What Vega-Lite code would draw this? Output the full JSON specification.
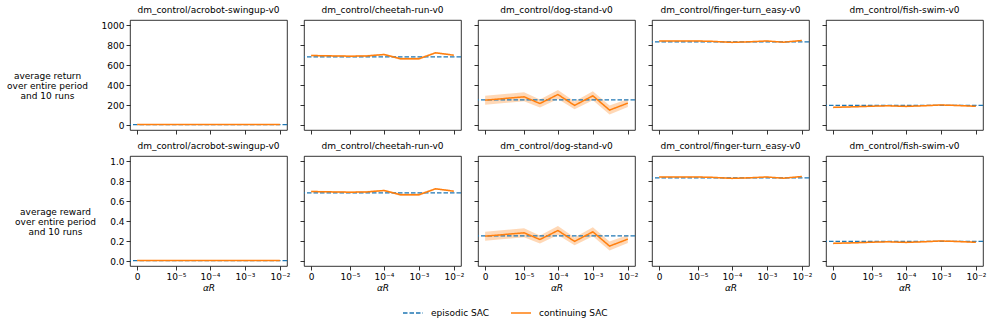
{
"$schema":"https://vega.github.io/schema/vega-lite/v6.json",
"padding":{"left":6,"top":5,"right":6,"bottom":4},
"background":"white",
"datasets":{"runs":[
{"env":"dm_control/acrobot-swingup-v0","method":"episodic SAC","ret":3,"rew":0.003},
{"env":"dm_control/cheetah-run-v0","method":"episodic SAC","ret":682,"rew":0.682},
{"env":"dm_control/dog-stand-v0","method":"episodic SAC","ret":252,"rew":0.252},
{"env":"dm_control/finger-turn_easy-v0","method":"episodic SAC","ret":831,"rew":0.831},
{"env":"dm_control/fish-swim-v0","method":"episodic SAC","ret":196,"rew":0.196},
{"env":"dm_control/acrobot-swingup-v0","method":"continuing SAC","alpha":0,"ret":5,"ret_lo":3,"ret_hi":7,"rew":0.005,"rew_lo":0.003,"rew_hi":0.007},
{"env":"dm_control/acrobot-swingup-v0","method":"continuing SAC","alpha":1e-5,"ret":6,"ret_lo":4,"ret_hi":8,"rew":0.006,"rew_lo":0.004,"rew_hi":0.008},
{"env":"dm_control/acrobot-swingup-v0","method":"continuing SAC","alpha":3e-5,"ret":5,"ret_lo":3,"ret_hi":7,"rew":0.005,"rew_lo":0.003,"rew_hi":0.007},
{"env":"dm_control/acrobot-swingup-v0","method":"continuing SAC","alpha":1e-4,"ret":5,"ret_lo":3,"ret_hi":7,"rew":0.005,"rew_lo":0.003,"rew_hi":0.007},
{"env":"dm_control/acrobot-swingup-v0","method":"continuing SAC","alpha":3e-4,"ret":6,"ret_lo":4,"ret_hi":8,"rew":0.006,"rew_lo":0.004,"rew_hi":0.008},
{"env":"dm_control/acrobot-swingup-v0","method":"continuing SAC","alpha":1e-3,"ret":5,"ret_lo":3,"ret_hi":7,"rew":0.005,"rew_lo":0.003,"rew_hi":0.007},
{"env":"dm_control/acrobot-swingup-v0","method":"continuing SAC","alpha":3e-3,"ret":5,"ret_lo":3,"ret_hi":7,"rew":0.005,"rew_lo":0.003,"rew_hi":0.007},
{"env":"dm_control/acrobot-swingup-v0","method":"continuing SAC","alpha":1e-2,"ret":6,"ret_lo":4,"ret_hi":8,"rew":0.006,"rew_lo":0.004,"rew_hi":0.008},
{"env":"dm_control/cheetah-run-v0","method":"continuing SAC","alpha":0,"ret":695,"ret_lo":687,"ret_hi":703,"rew":0.695,"rew_lo":0.687,"rew_hi":0.703},
{"env":"dm_control/cheetah-run-v0","method":"continuing SAC","alpha":1e-5,"ret":688,"ret_lo":678,"ret_hi":698,"rew":0.688,"rew_lo":0.678,"rew_hi":0.698},
{"env":"dm_control/cheetah-run-v0","method":"continuing SAC","alpha":3e-5,"ret":690,"ret_lo":680,"ret_hi":700,"rew":0.690,"rew_lo":0.680,"rew_hi":0.700},
{"env":"dm_control/cheetah-run-v0","method":"continuing SAC","alpha":1e-4,"ret":705,"ret_lo":697,"ret_hi":713,"rew":0.705,"rew_lo":0.697,"rew_hi":0.713},
{"env":"dm_control/cheetah-run-v0","method":"continuing SAC","alpha":3e-4,"ret":662,"ret_lo":650,"ret_hi":674,"rew":0.662,"rew_lo":0.650,"rew_hi":0.674},
{"env":"dm_control/cheetah-run-v0","method":"continuing SAC","alpha":1e-3,"ret":662,"ret_lo":650,"ret_hi":674,"rew":0.662,"rew_lo":0.650,"rew_hi":0.674},
{"env":"dm_control/cheetah-run-v0","method":"continuing SAC","alpha":3e-3,"ret":722,"ret_lo":714,"ret_hi":730,"rew":0.722,"rew_lo":0.714,"rew_hi":0.730},
{"env":"dm_control/cheetah-run-v0","method":"continuing SAC","alpha":1e-2,"ret":698,"ret_lo":690,"ret_hi":706,"rew":0.698,"rew_lo":0.690,"rew_hi":0.706},
{"env":"dm_control/dog-stand-v0","method":"continuing SAC","alpha":0,"ret":248,"ret_lo":203,"ret_hi":293,"rew":0.248,"rew_lo":0.203,"rew_hi":0.293},
{"env":"dm_control/dog-stand-v0","method":"continuing SAC","alpha":1e-5,"ret":282,"ret_lo":237,"ret_hi":327,"rew":0.282,"rew_lo":0.237,"rew_hi":0.327},
{"env":"dm_control/dog-stand-v0","method":"continuing SAC","alpha":3e-5,"ret":215,"ret_lo":175,"ret_hi":255,"rew":0.215,"rew_lo":0.175,"rew_hi":0.255},
{"env":"dm_control/dog-stand-v0","method":"continuing SAC","alpha":1e-4,"ret":305,"ret_lo":260,"ret_hi":350,"rew":0.305,"rew_lo":0.260,"rew_hi":0.350},
{"env":"dm_control/dog-stand-v0","method":"continuing SAC","alpha":3e-4,"ret":196,"ret_lo":158,"ret_hi":234,"rew":0.196,"rew_lo":0.158,"rew_hi":0.234},
{"env":"dm_control/dog-stand-v0","method":"continuing SAC","alpha":1e-3,"ret":292,"ret_lo":247,"ret_hi":337,"rew":0.292,"rew_lo":0.247,"rew_hi":0.337},
{"env":"dm_control/dog-stand-v0","method":"continuing SAC","alpha":3e-3,"ret":149,"ret_lo":104,"ret_hi":194,"rew":0.149,"rew_lo":0.104,"rew_hi":0.194},
{"env":"dm_control/dog-stand-v0","method":"continuing SAC","alpha":1e-2,"ret":219,"ret_lo":179,"ret_hi":259,"rew":0.219,"rew_lo":0.179,"rew_hi":0.259},
{"env":"dm_control/finger-turn_easy-v0","method":"continuing SAC","alpha":0,"ret":840,"ret_lo":834,"ret_hi":846,"rew":0.840,"rew_lo":0.834,"rew_hi":0.846},
{"env":"dm_control/finger-turn_easy-v0","method":"continuing SAC","alpha":1e-5,"ret":840,"ret_lo":834,"ret_hi":846,"rew":0.840,"rew_lo":0.834,"rew_hi":0.846},
{"env":"dm_control/finger-turn_easy-v0","method":"continuing SAC","alpha":3e-5,"ret":836,"ret_lo":830,"ret_hi":842,"rew":0.836,"rew_lo":0.830,"rew_hi":0.842},
{"env":"dm_control/finger-turn_easy-v0","method":"continuing SAC","alpha":1e-4,"ret":826,"ret_lo":820,"ret_hi":832,"rew":0.826,"rew_lo":0.820,"rew_hi":0.832},
{"env":"dm_control/finger-turn_easy-v0","method":"continuing SAC","alpha":3e-4,"ret":832,"ret_lo":826,"ret_hi":838,"rew":0.832,"rew_lo":0.826,"rew_hi":0.838},
{"env":"dm_control/finger-turn_easy-v0","method":"continuing SAC","alpha":1e-3,"ret":840,"ret_lo":834,"ret_hi":846,"rew":0.840,"rew_lo":0.834,"rew_hi":0.846},
{"env":"dm_control/finger-turn_easy-v0","method":"continuing SAC","alpha":3e-3,"ret":828,"ret_lo":822,"ret_hi":834,"rew":0.828,"rew_lo":0.822,"rew_hi":0.834},
{"env":"dm_control/finger-turn_easy-v0","method":"continuing SAC","alpha":1e-2,"ret":845,"ret_lo":839,"ret_hi":851,"rew":0.845,"rew_lo":0.839,"rew_hi":0.851},
{"env":"dm_control/fish-swim-v0","method":"continuing SAC","alpha":0,"ret":176,"ret_lo":168,"ret_hi":184,"rew":0.176,"rew_lo":0.168,"rew_hi":0.184},
{"env":"dm_control/fish-swim-v0","method":"continuing SAC","alpha":1e-5,"ret":188,"ret_lo":180,"ret_hi":196,"rew":0.188,"rew_lo":0.180,"rew_hi":0.196},
{"env":"dm_control/fish-swim-v0","method":"continuing SAC","alpha":3e-5,"ret":192,"ret_lo":184,"ret_hi":200,"rew":0.192,"rew_lo":0.184,"rew_hi":0.200},
{"env":"dm_control/fish-swim-v0","method":"continuing SAC","alpha":1e-4,"ret":186,"ret_lo":178,"ret_hi":194,"rew":0.186,"rew_lo":0.178,"rew_hi":0.194},
{"env":"dm_control/fish-swim-v0","method":"continuing SAC","alpha":3e-4,"ret":192,"ret_lo":184,"ret_hi":200,"rew":0.192,"rew_lo":0.184,"rew_hi":0.200},
{"env":"dm_control/fish-swim-v0","method":"continuing SAC","alpha":1e-3,"ret":200,"ret_lo":192,"ret_hi":208,"rew":0.200,"rew_lo":0.192,"rew_hi":0.208},
{"env":"dm_control/fish-swim-v0","method":"continuing SAC","alpha":3e-3,"ret":195,"ret_lo":187,"ret_hi":203,"rew":0.195,"rew_lo":0.187,"rew_hi":0.203},
{"env":"dm_control/fish-swim-v0","method":"continuing SAC","alpha":1e-2,"ret":187,"ret_lo":179,"ret_hi":195,"rew":0.187,"rew_lo":0.179,"rew_hi":0.195}
]},
"columns":5,
"spacing":{"row":26,"column":17},
"bounds":"flush",
"resolve":{"scale":{"color":"shared","strokeDash":"shared"}},
"concat":[
{"title":"dm_control/acrobot-swingup-v0","width":157,"height":110,"data":{"name":"runs"},"transform":[{"filter":"datum.env=='dm_control/acrobot-swingup-v0'"}],
"layer":[
{"transform":[{"filter":"datum.method=='continuing SAC'"}],"mark":{"type":"area","color":"#ff7f0e","opacity":0.3},"encoding":{"x":{"field":"alpha","type":"quantitative","scale":{"type":"symlog","constant":8.4e-7,"domain":[-5.03e-7,0.016],"nice":false,"zero":false},"axis":{"values":[0,1e-5,1e-4,1e-3,1e-2],"tickCount":20,"labels":false,"title":null}},"y":{"field":"ret_lo","type":"quantitative","scale":{"domain":[-50,1050],"nice":false,"zero":false},"axis":{"values":[0,200,400,600,800,1000],"tickCount":20,"format":"d","title":["average return","over entire period","and 10 runs"],"titleAngle":0,"titleAlign":"center","titleBaseline":"middle","titleX":-83,"titleY":55,"titleLineHeight":10}},"y2":{"field":"ret_hi"}}},
{"transform":[{"filter":"datum.method=='episodic SAC'"}],"mark":{"type":"rule","strokeWidth":1.3},"encoding":{"y":{"field":"ret","type":"quantitative"},"color":{"field":"method","type":"nominal","scale":{"domain":["episodic SAC","continuing SAC"],"range":["#1f77b4","#ff7f0e"]},"legend":{"title":null}},"strokeDash":{"field":"method","type":"nominal","scale":{"domain":["episodic SAC","continuing SAC"],"range":[[4.5,2],[1,0]]},"legend":{"title":null}}}},
{"transform":[{"filter":"datum.method=='continuing SAC'"}],"mark":{"type":"line","strokeWidth":1.5},"encoding":{"x":{"field":"alpha","type":"quantitative"},"y":{"field":"ret","type":"quantitative"},"color":{"field":"method","type":"nominal"},"strokeDash":{"field":"method","type":"nominal"}}}
]},
{"title":"dm_control/cheetah-run-v0","width":157,"height":110,"data":{"name":"runs"},"transform":[{"filter":"datum.env=='dm_control/cheetah-run-v0'"}],
"layer":[
{"transform":[{"filter":"datum.method=='continuing SAC'"}],"mark":{"type":"area","color":"#ff7f0e","opacity":0.3},"encoding":{"x":{"field":"alpha","type":"quantitative","scale":{"type":"symlog","constant":8.4e-7,"domain":[-5.03e-7,0.016],"nice":false,"zero":false},"axis":{"values":[0,1e-5,1e-4,1e-3,1e-2],"tickCount":20,"labels":false,"title":null}},"y":{"field":"ret_lo","type":"quantitative","scale":{"domain":[-50,1050],"nice":false,"zero":false},"axis":{"values":[0,200,400,600,800,1000],"tickCount":20,"labels":false,"title":null}},"y2":{"field":"ret_hi"}}},
{"transform":[{"filter":"datum.method=='episodic SAC'"}],"mark":{"type":"rule","strokeWidth":1.3},"encoding":{"y":{"field":"ret","type":"quantitative"},"color":{"field":"method","type":"nominal"},"strokeDash":{"field":"method","type":"nominal"}}},
{"transform":[{"filter":"datum.method=='continuing SAC'"}],"mark":{"type":"line","strokeWidth":1.5},"encoding":{"x":{"field":"alpha","type":"quantitative"},"y":{"field":"ret","type":"quantitative"},"color":{"field":"method","type":"nominal"},"strokeDash":{"field":"method","type":"nominal"}}}
]},
{"title":"dm_control/dog-stand-v0","width":157,"height":110,"data":{"name":"runs"},"transform":[{"filter":"datum.env=='dm_control/dog-stand-v0'"}],
"layer":[
{"transform":[{"filter":"datum.method=='continuing SAC'"}],"mark":{"type":"area","color":"#ff7f0e","opacity":0.3},"encoding":{"x":{"field":"alpha","type":"quantitative","scale":{"type":"symlog","constant":8.4e-7,"domain":[-5.03e-7,0.016],"nice":false,"zero":false},"axis":{"values":[0,1e-5,1e-4,1e-3,1e-2],"tickCount":20,"labels":false,"title":null}},"y":{"field":"ret_lo","type":"quantitative","scale":{"domain":[-50,1050],"nice":false,"zero":false},"axis":{"values":[0,200,400,600,800,1000],"tickCount":20,"labels":false,"title":null}},"y2":{"field":"ret_hi"}}},
{"transform":[{"filter":"datum.method=='episodic SAC'"}],"mark":{"type":"rule","strokeWidth":1.3},"encoding":{"y":{"field":"ret","type":"quantitative"},"color":{"field":"method","type":"nominal"},"strokeDash":{"field":"method","type":"nominal"}}},
{"transform":[{"filter":"datum.method=='continuing SAC'"}],"mark":{"type":"line","strokeWidth":1.5},"encoding":{"x":{"field":"alpha","type":"quantitative"},"y":{"field":"ret","type":"quantitative"},"color":{"field":"method","type":"nominal"},"strokeDash":{"field":"method","type":"nominal"}}}
]},
{"title":"dm_control/finger-turn_easy-v0","width":157,"height":110,"data":{"name":"runs"},"transform":[{"filter":"datum.env=='dm_control/finger-turn_easy-v0'"}],
"layer":[
{"transform":[{"filter":"datum.method=='continuing SAC'"}],"mark":{"type":"area","color":"#ff7f0e","opacity":0.3},"encoding":{"x":{"field":"alpha","type":"quantitative","scale":{"type":"symlog","constant":8.4e-7,"domain":[-5.03e-7,0.016],"nice":false,"zero":false},"axis":{"values":[0,1e-5,1e-4,1e-3,1e-2],"tickCount":20,"labels":false,"title":null}},"y":{"field":"ret_lo","type":"quantitative","scale":{"domain":[-50,1050],"nice":false,"zero":false},"axis":{"values":[0,200,400,600,800,1000],"tickCount":20,"labels":false,"title":null}},"y2":{"field":"ret_hi"}}},
{"transform":[{"filter":"datum.method=='episodic SAC'"}],"mark":{"type":"rule","strokeWidth":1.3},"encoding":{"y":{"field":"ret","type":"quantitative"},"color":{"field":"method","type":"nominal"},"strokeDash":{"field":"method","type":"nominal"}}},
{"transform":[{"filter":"datum.method=='continuing SAC'"}],"mark":{"type":"line","strokeWidth":1.5},"encoding":{"x":{"field":"alpha","type":"quantitative"},"y":{"field":"ret","type":"quantitative"},"color":{"field":"method","type":"nominal"},"strokeDash":{"field":"method","type":"nominal"}}}
]},
{"title":"dm_control/fish-swim-v0","width":157,"height":110,"data":{"name":"runs"},"transform":[{"filter":"datum.env=='dm_control/fish-swim-v0'"}],
"layer":[
{"transform":[{"filter":"datum.method=='continuing SAC'"}],"mark":{"type":"area","color":"#ff7f0e","opacity":0.3},"encoding":{"x":{"field":"alpha","type":"quantitative","scale":{"type":"symlog","constant":8.4e-7,"domain":[-5.03e-7,0.016],"nice":false,"zero":false},"axis":{"values":[0,1e-5,1e-4,1e-3,1e-2],"tickCount":20,"labels":false,"title":null}},"y":{"field":"ret_lo","type":"quantitative","scale":{"domain":[-50,1050],"nice":false,"zero":false},"axis":{"values":[0,200,400,600,800,1000],"tickCount":20,"labels":false,"title":null}},"y2":{"field":"ret_hi"}}},
{"transform":[{"filter":"datum.method=='episodic SAC'"}],"mark":{"type":"rule","strokeWidth":1.3},"encoding":{"y":{"field":"ret","type":"quantitative"},"color":{"field":"method","type":"nominal"},"strokeDash":{"field":"method","type":"nominal"}}},
{"transform":[{"filter":"datum.method=='continuing SAC'"}],"mark":{"type":"line","strokeWidth":1.5},"encoding":{"x":{"field":"alpha","type":"quantitative"},"y":{"field":"ret","type":"quantitative"},"color":{"field":"method","type":"nominal"},"strokeDash":{"field":"method","type":"nominal"}}}
]},
{"title":"dm_control/acrobot-swingup-v0","width":157,"height":110,"data":{"name":"runs"},"transform":[{"filter":"datum.env=='dm_control/acrobot-swingup-v0'"}],
"layer":[
{"transform":[{"filter":"datum.method=='continuing SAC'"}],"mark":{"type":"area","color":"#ff7f0e","opacity":0.3},"encoding":{"x":{"field":"alpha","type":"quantitative","scale":{"type":"symlog","constant":8.4e-7,"domain":[-5.03e-7,0.016],"nice":false,"zero":false},"axis":{"values":[0,1e-5,1e-4,1e-3,1e-2],"tickCount":20,"labelExpr":"datum.value == 0 ? '0' : datum.value < 5e-5 ? '10⁻⁵' : datum.value < 5e-4 ? '10⁻⁴' : datum.value < 5e-3 ? '10⁻³' : '10⁻²'","title":"αR"}},"y":{"field":"rew_lo","type":"quantitative","scale":{"domain":[-0.05,1.05],"nice":false,"zero":false},"axis":{"values":[0,0.2,0.4,0.6,0.8,1],"tickCount":20,"format":".1f","title":["average reward","over entire period","and 10 runs"],"titleAngle":0,"titleAlign":"center","titleBaseline":"middle","titleX":-75,"titleY":55,"titleLineHeight":10}},"y2":{"field":"rew_hi"}}},
{"transform":[{"filter":"datum.method=='episodic SAC'"}],"mark":{"type":"rule","strokeWidth":1.3},"encoding":{"y":{"field":"rew","type":"quantitative"},"color":{"field":"method","type":"nominal"},"strokeDash":{"field":"method","type":"nominal"}}},
{"transform":[{"filter":"datum.method=='continuing SAC'"}],"mark":{"type":"line","strokeWidth":1.5},"encoding":{"x":{"field":"alpha","type":"quantitative"},"y":{"field":"rew","type":"quantitative"},"color":{"field":"method","type":"nominal"},"strokeDash":{"field":"method","type":"nominal"}}}
]},
{"title":"dm_control/cheetah-run-v0","width":157,"height":110,"data":{"name":"runs"},"transform":[{"filter":"datum.env=='dm_control/cheetah-run-v0'"}],
"layer":[
{"transform":[{"filter":"datum.method=='continuing SAC'"}],"mark":{"type":"area","color":"#ff7f0e","opacity":0.3},"encoding":{"x":{"field":"alpha","type":"quantitative","scale":{"type":"symlog","constant":8.4e-7,"domain":[-5.03e-7,0.016],"nice":false,"zero":false},"axis":{"values":[0,1e-5,1e-4,1e-3,1e-2],"tickCount":20,"labelExpr":"datum.value == 0 ? '0' : datum.value < 5e-5 ? '10⁻⁵' : datum.value < 5e-4 ? '10⁻⁴' : datum.value < 5e-3 ? '10⁻³' : '10⁻²'","title":"αR"}},"y":{"field":"rew_lo","type":"quantitative","scale":{"domain":[-0.05,1.05],"nice":false,"zero":false},"axis":{"values":[0,0.2,0.4,0.6,0.8,1],"tickCount":20,"labels":false,"title":null}},"y2":{"field":"rew_hi"}}},
{"transform":[{"filter":"datum.method=='episodic SAC'"}],"mark":{"type":"rule","strokeWidth":1.3},"encoding":{"y":{"field":"rew","type":"quantitative"},"color":{"field":"method","type":"nominal"},"strokeDash":{"field":"method","type":"nominal"}}},
{"transform":[{"filter":"datum.method=='continuing SAC'"}],"mark":{"type":"line","strokeWidth":1.5},"encoding":{"x":{"field":"alpha","type":"quantitative"},"y":{"field":"rew","type":"quantitative"},"color":{"field":"method","type":"nominal"},"strokeDash":{"field":"method","type":"nominal"}}}
]},
{"title":"dm_control/dog-stand-v0","width":157,"height":110,"data":{"name":"runs"},"transform":[{"filter":"datum.env=='dm_control/dog-stand-v0'"}],
"layer":[
{"transform":[{"filter":"datum.method=='continuing SAC'"}],"mark":{"type":"area","color":"#ff7f0e","opacity":0.3},"encoding":{"x":{"field":"alpha","type":"quantitative","scale":{"type":"symlog","constant":8.4e-7,"domain":[-5.03e-7,0.016],"nice":false,"zero":false},"axis":{"values":[0,1e-5,1e-4,1e-3,1e-2],"tickCount":20,"labelExpr":"datum.value == 0 ? '0' : datum.value < 5e-5 ? '10⁻⁵' : datum.value < 5e-4 ? '10⁻⁴' : datum.value < 5e-3 ? '10⁻³' : '10⁻²'","title":"αR"}},"y":{"field":"rew_lo","type":"quantitative","scale":{"domain":[-0.05,1.05],"nice":false,"zero":false},"axis":{"values":[0,0.2,0.4,0.6,0.8,1],"tickCount":20,"labels":false,"title":null}},"y2":{"field":"rew_hi"}}},
{"transform":[{"filter":"datum.method=='episodic SAC'"}],"mark":{"type":"rule","strokeWidth":1.3},"encoding":{"y":{"field":"rew","type":"quantitative"},"color":{"field":"method","type":"nominal"},"strokeDash":{"field":"method","type":"nominal"}}},
{"transform":[{"filter":"datum.method=='continuing SAC'"}],"mark":{"type":"line","strokeWidth":1.5},"encoding":{"x":{"field":"alpha","type":"quantitative"},"y":{"field":"rew","type":"quantitative"},"color":{"field":"method","type":"nominal"},"strokeDash":{"field":"method","type":"nominal"}}}
]},
{"title":"dm_control/finger-turn_easy-v0","width":157,"height":110,"data":{"name":"runs"},"transform":[{"filter":"datum.env=='dm_control/finger-turn_easy-v0'"}],
"layer":[
{"transform":[{"filter":"datum.method=='continuing SAC'"}],"mark":{"type":"area","color":"#ff7f0e","opacity":0.3},"encoding":{"x":{"field":"alpha","type":"quantitative","scale":{"type":"symlog","constant":8.4e-7,"domain":[-5.03e-7,0.016],"nice":false,"zero":false},"axis":{"values":[0,1e-5,1e-4,1e-3,1e-2],"tickCount":20,"labelExpr":"datum.value == 0 ? '0' : datum.value < 5e-5 ? '10⁻⁵' : datum.value < 5e-4 ? '10⁻⁴' : datum.value < 5e-3 ? '10⁻³' : '10⁻²'","title":"αR"}},"y":{"field":"rew_lo","type":"quantitative","scale":{"domain":[-0.05,1.05],"nice":false,"zero":false},"axis":{"values":[0,0.2,0.4,0.6,0.8,1],"tickCount":20,"labels":false,"title":null}},"y2":{"field":"rew_hi"}}},
{"transform":[{"filter":"datum.method=='episodic SAC'"}],"mark":{"type":"rule","strokeWidth":1.3},"encoding":{"y":{"field":"rew","type":"quantitative"},"color":{"field":"method","type":"nominal"},"strokeDash":{"field":"method","type":"nominal"}}},
{"transform":[{"filter":"datum.method=='continuing SAC'"}],"mark":{"type":"line","strokeWidth":1.5},"encoding":{"x":{"field":"alpha","type":"quantitative"},"y":{"field":"rew","type":"quantitative"},"color":{"field":"method","type":"nominal"},"strokeDash":{"field":"method","type":"nominal"}}}
]},
{"title":"dm_control/fish-swim-v0","width":157,"height":110,"data":{"name":"runs"},"transform":[{"filter":"datum.env=='dm_control/fish-swim-v0'"}],
"layer":[
{"transform":[{"filter":"datum.method=='continuing SAC'"}],"mark":{"type":"area","color":"#ff7f0e","opacity":0.3},"encoding":{"x":{"field":"alpha","type":"quantitative","scale":{"type":"symlog","constant":8.4e-7,"domain":[-5.03e-7,0.016],"nice":false,"zero":false},"axis":{"values":[0,1e-5,1e-4,1e-3,1e-2],"tickCount":20,"labelExpr":"datum.value == 0 ? '0' : datum.value < 5e-5 ? '10⁻⁵' : datum.value < 5e-4 ? '10⁻⁴' : datum.value < 5e-3 ? '10⁻³' : '10⁻²'","title":"αR"}},"y":{"field":"rew_lo","type":"quantitative","scale":{"domain":[-0.05,1.05],"nice":false,"zero":false},"axis":{"values":[0,0.2,0.4,0.6,0.8,1],"tickCount":20,"labels":false,"title":null}},"y2":{"field":"rew_hi"}}},
{"transform":[{"filter":"datum.method=='episodic SAC'"}],"mark":{"type":"rule","strokeWidth":1.3},"encoding":{"y":{"field":"rew","type":"quantitative"},"color":{"field":"method","type":"nominal"},"strokeDash":{"field":"method","type":"nominal"}}},
{"transform":[{"filter":"datum.method=='continuing SAC'"}],"mark":{"type":"line","strokeWidth":1.5},"encoding":{"x":{"field":"alpha","type":"quantitative"},"y":{"field":"rew","type":"quantitative"},"color":{"field":"method","type":"nominal"},"strokeDash":{"field":"method","type":"nominal"}}}
]}
],
"config":{
"font":"DejaVu Sans",
"view":{"stroke":"#000","strokeWidth":0.8},
"axis":{"domain":false,"grid":false,"ticks":true,"tickColor":"#000","tickWidth":0.8,"tickSize":4,"labelFontSize":9,"labelColor":"#000","labelFont":"DejaVu Sans","labelPadding":2,"labelOverlap":false,"labelBound":false,"titleFontSize":9,"titleFontWeight":"normal","titleColor":"#000","titleFont":"DejaVu Sans"},
"axisX":{"labelAngle":0,"labelFlush":false,"titlePadding":2,"titleFontStyle":"italic"},
"axisY":{"labelFlush":false},
"title":{"fontSize":9,"fontWeight":"normal","color":"#000","font":"DejaVu Sans","offset":5,"anchor":"middle"},
"legend":{"orient":"none","legendX":272,"legendY":282,"direction":"horizontal","symbolType":"stroke","symbolSize":400,"symbolStrokeWidth":1.4,"labelFontSize":9,"labelFont":"DejaVu Sans","labelColor":"#000","columnPadding":18,"labelOffset":7}
}
}
